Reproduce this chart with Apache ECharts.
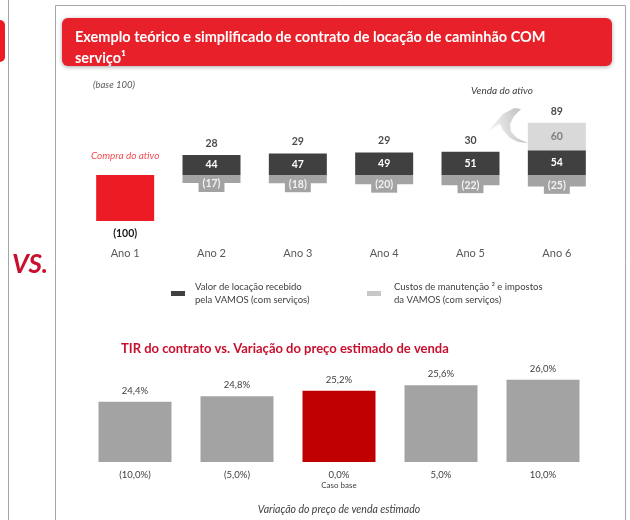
<!DOCTYPE html>
<html>
<head>
<meta charset="utf-8">
<script src="https://cdn.jsdelivr.net/npm/echarts@6/dist/echarts.min.js"></script>
<style>
html, body { margin: 0; padding: 0; background: #fff; }
#main { width: 630px; height: 520px; }
</style>
</head>
<body>
<div id="main"></div>
<script>
// fluxo do contrato (base 100)
var anos = ['Ano 1', 'Ano 2', 'Ano 3', 'Ano 4', 'Ano 5', 'Ano 6'];
var compra = [-100, null, null, null, null, null];
var locacao = [null, 44, 47, 49, 51, 54];
var custos = [null, -17, -18, -20, -22, -25];
var venda = [null, null, null, null, null, 60];
var liquido = [null, 28, 29, 29, 30, 89];

// TIR vs variacao do preco de venda
var variacao = ['(10,0%)', '(5,0%)', '0,0%', '5,0%', '10,0%'];
var tir = [24.4, 24.8, 25.2, 25.6, 26.0];
var casoBase = 2;

var FONT = 'Lato, "Open Sans", sans-serif';
var VERMELHO = '#ed1c24';
var ESCURO = '#404041';
var CINZA = '#a3a3a3';
var CLARO = '#d9d9d9';

var chart = echarts.init(document.getElementById('main'));

var nomeLoc = 'Valor de locação recebido pela VAMOS (com serviços)';
var nomeCus = 'Custos de manutenção ² e impostos da VAMOS (com serviços)';

var topo = anos.map(function (a, i) {
    if (i === 0) {
        return {
            value: 0,
            label: { color: VERMELHO, fontStyle: 'italic', fontWeight: 'normal', fontSize: 10, distance: 13 }
        };
    }
    return { value: (locacao[i] || 0) + (venda[i] || 0) };
});

var option = {
    animation: false,
    textStyle: { fontFamily: FONT },
    title: [{
        text: 'Exemplo teórico e simplificado de contrato de locação de caminhão COM\nserviço¹',
        left: 70, top: 22,
        textStyle: { color: '#fff', fontSize: 14.5, fontWeight: 'bold', lineHeight: 21, fontFamily: FONT }
    }, {
        text: '(base 100)',
        left: 88, top: 75,
        textStyle: { color: '#595959', fontSize: 9.5, fontStyle: 'italic', fontWeight: 'normal', fontFamily: FONT }
    }, {
        text: 'TIR do contrato vs. Variação do preço estimado de venda',
        left: 116, top: 337,
        textStyle: { color: '#c8102e', fontSize: 13, fontWeight: 'bold', fontFamily: FONT }
    }],
    legend: [{
        data: [nomeLoc],
        left: 166, top: 276,
        selectedMode: false,
        icon: 'rect',
        itemWidth: 14, itemHeight: 5,
        formatter: function () { return 'Valor de locação recebido\npela VAMOS (com serviços)'; },
        textStyle: { fontSize: 9.5, lineHeight: 12.5, color: '#404040', fontFamily: FONT, padding: [0, 0, 0, 5] }
    }, {
        data: [nomeCus],
        left: 362, top: 276,
        selectedMode: false,
        icon: 'rect',
        itemWidth: 14, itemHeight: 5,
        itemStyle: { color: '#c8c8c8' },
        formatter: function () { return 'Custos de manutenção ² e impostos\nda VAMOS (com serviços)'; },
        textStyle: { fontSize: 9.5, lineHeight: 12.5, color: '#404040', fontFamily: FONT, padding: [0, 0, 0, 8] }
    }],
    grid: [
        { left: 82, width: 518, top: 120, height: 101 },
        { left: 84, width: 510, top: 366, height: 96 }
    ],
    xAxis: [{
        type: 'category', gridIndex: 0, data: anos,
        axisLine: { show: false }, axisTick: { show: false },
        axisLabel: { margin: 27, fontSize: 11, color: '#595959' }
    }, {
        type: 'category', gridIndex: 1, data: variacao,
        axisLine: { show: false }, axisTick: { show: false },
        axisLabel: {
            margin: 7, fontSize: 9.5, color: '#404040', lineHeight: 11,
            formatter: function (v, i) { return i === casoBase ? v + '\n{s|Caso base}' : v; },
            rich: { s: { fontSize: 8, color: '#404040', lineHeight: 11 } }
        },
        name: 'Variação do preço de venda estimado',
        nameLocation: 'middle', nameGap: 42,
        nameTextStyle: { fontSize: 10.5, fontStyle: 'italic', color: '#404040' }
    }],
    yAxis: [{
        type: 'value', gridIndex: 0, min: -100, max: 120, show: false
    }, {
        type: 'value', gridIndex: 1, min: 20, max: 27, show: false
    }],
    series: [{
        name: 'Compra', type: 'bar', stack: 'a', barWidth: 58,
        data: compra,
        itemStyle: { color: VERMELHO },
        label: { show: true, position: 'bottom', distance: 7, fontSize: 10.5, fontWeight: 'bold', color: '#1a1a1a',
            formatter: function (p) { return '(' + Math.abs(p.value) + ')'; } }
    }, {
        name: nomeLoc, type: 'bar', stack: 'a', barWidth: 58,
        data: locacao,
        itemStyle: { color: ESCURO },
        label: { show: true, position: 'inside', fontSize: 10.5, fontWeight: 'bold', color: '#fff' }
    }, {
        name: nomeCus, type: 'bar', stack: 'a', barWidth: 58,
        data: custos,
        itemStyle: { color: CINZA },
        label: { show: true, position: 'inside', offset: [0, 5], fontSize: 10.5, fontWeight: 'bold', color: '#f2f2f2',
            backgroundColor: CINZA, padding: [3, 4, 2, 4],
            formatter: function (p) { return '(' + Math.abs(p.value) + ')'; } }
    }, {
        name: 'Venda', type: 'bar', stack: 'a', barWidth: 58,
        data: venda,
        itemStyle: { color: CLARO },
        label: { show: true, position: 'inside', fontSize: 10.5, fontWeight: 'bold', color: '#7f7f7f' }
    }, {
        name: 'Total', type: 'scatter', symbol: 'circle', symbolSize: 2,
        itemStyle: { color: 'rgba(255,255,255,0)' },
        data: topo,
        label: { show: true, position: 'top', distance: 5, fontSize: 10.5, fontWeight: 'bold', color: '#1a1a1a',
            formatter: function (p) { return p.dataIndex === 0 ? 'Compra do ativo' : String(liquido[p.dataIndex]); } },
        z: 5
    }, {
        name: 'TIR', type: 'bar', xAxisIndex: 1, yAxisIndex: 1, barWidth: 73,
        data: tir.map(function (v, i) {
            return { value: v, itemStyle: { color: i === casoBase ? '#c00000' : CINZA } };
        }),
        label: { show: true, position: 'top', distance: 6, fontSize: 9.5, color: '#404040',
            formatter: function (p) { return p.value.toFixed(1).replace('.', ',') + '%'; } }
    }],
    graphic: [{
        type: 'line', shape: { x1: 8.5, y1: 0, x2: 8.5, y2: 520 },
        style: { stroke: '#a6a6a6', lineWidth: 1 }
    }, {
        type: 'rect', shape: { x: -10, y: 20, width: 15, height: 42, r: 5 },
        style: { fill: VERMELHO }
    }, {
        type: 'text', x: 12, y: 252,
        style: { text: 'VS.', fill: '#c8102e', font: 'italic bold 26px ' + FONT }
    }, {
        type: 'rect', shape: { x: 55.5, y: 5.5, width: 570, height: 540 },
        style: { fill: 'none', stroke: '#a6a6a6', lineWidth: 1 }
    }, {
        type: 'rect', shape: { x: 62, y: 18, width: 550, height: 48, r: 6 },
        style: { fill: '#e8202a', shadowBlur: 4, shadowColor: 'rgba(0,0,0,0.35)', shadowOffsetY: 1 },
        z: -1
    }, {
        type: 'text', x: 471, y: 86,
        style: { text: 'Venda do ativo', fill: '#404040', font: 'italic 10px ' + FONT }
    }, {
        type: 'polygon',
        shape: { points: [[488, 131], [503, 114], [514, 108], [521, 109], [514, 116], [510, 124], [511, 132], [517, 138], [528, 143], [518, 142], [510, 138], [503, 130], [500, 124]] },
        style: {
            fill: {
                type: 'linear', x: 1, y: 0, x2: 0, y2: 0.3,
                colorStops: [{ offset: 0, color: '#b5b5b5' }, { offset: 1, color: '#f4f4f4' }]
            }
        }
    }]
};

chart.setOption(option);
</script>
</body>
</html>
